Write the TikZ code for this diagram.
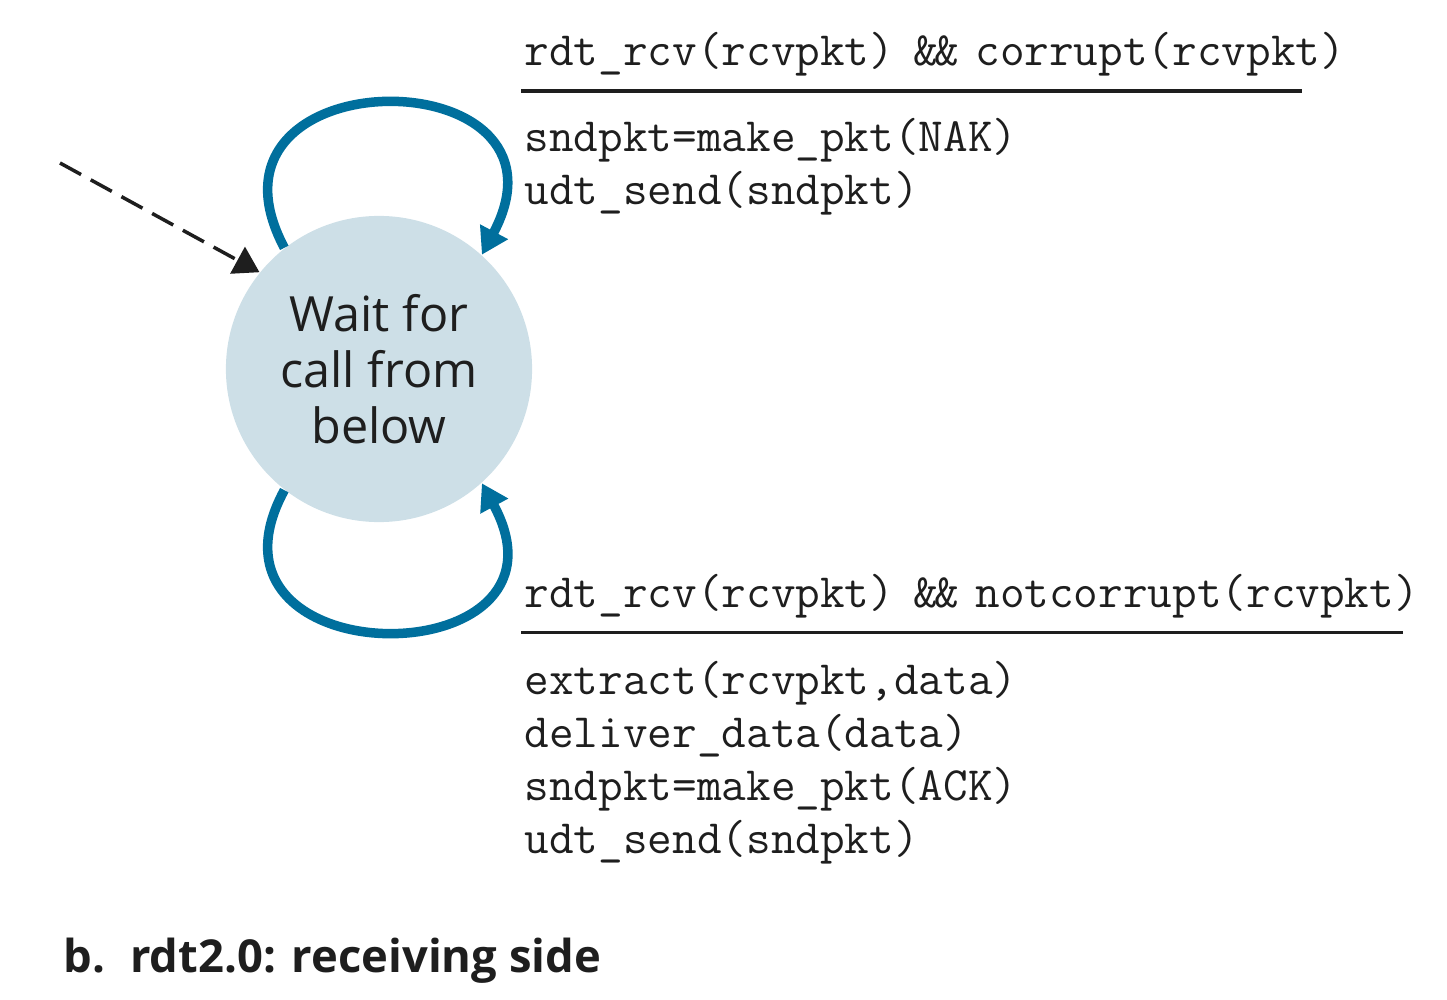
\documentclass[tikz,border=0pt]{standalone}
\usepackage{fontspec}
\setmainfont{Open Sans}
\usetikzlibrary{arrows.meta}
\definecolor{loopblue}{RGB}{0,111,157}
\definecolor{statefill}{RGB}{205,223,231}
\definecolor{ink}{RGB}{30,30,30}
\tikzset{
  statenode/.style={circle, minimum size=3.06cm, inner sep=0pt, fill=statefill, draw=none,
    align=center, text=ink, font=\fontsize{13.8}{15.9}\selectfont},
  selfloop/.style={draw=loopblue, line width=0.095cm, -{Triangle[length=0.26cm,width=0.30cm]}},
  initarrow/.style={draw=ink, line width=0.035cm, dash pattern=on 0.24cm off 0.11cm,
    -{Triangle[length=0.25cm,width=0.30cm]}},
  code/.style={anchor=base west, inner sep=0pt, text=ink, font=\fontsize{13.6}{15}\ttfamily},
  rule/.style={draw=ink, line width=0.03cm},
  caption/.style={anchor=base west, inner sep=0pt, text=ink, font=\fontsize{12.9}{16}\selectfont\bfseries}
}
\newcommand{\andand}{\kern-0.12em\&\kern-0.06em\&\kern-0.18em}
\begin{document}
\begin{tikzpicture}[x=0.01cm, y=-0.01cm]
\useasboundingbox (0,0) rectangle (1447,1000);

\node[statenode] (w) at (379,369) {Wait for\\call from\\below};

% self loops
\draw[selfloop] (w.128) .. controls (182,55) and (588,55) .. (w.48);
\draw[selfloop] (w.232) .. controls (182,679) and (588,679) .. (w.312);

% initial arrow
\coordinate (init) at (60,163);
\draw[initarrow] (init) -- (w.141.5);

% top transition label
\node[code] (c1) at (524,65) {rdt\_rcv(rcvpkt) \andand\ corrupt(rcvpkt)};
\draw[rule] (521,91) -- (1302,91);
\node[code] (a1) at (524,152) {sndpkt=make\_pkt(NAK)};
\node[code] (a2) at (524,205) {udt\_send(sndpkt)};

% bottom transition label
\node[code] (c2) at (524,607) {rdt\_rcv(rcvpkt) \andand\ notcorrupt(rcvpkt)};
\draw[rule] (521,632) -- (1403,632);
\node[code] (b1) at (524,694) {extract(rcvpkt,data)};
\node[code] (b2) at (524,747) {deliver\_data(data)};
\node[code] (b3) at (524,800) {sndpkt=make\_pkt(ACK)};
\node[code] (b4) at (524,853) {udt\_send(sndpkt)};

% caption
\node[caption] (cap) at (63,972) {b.\hspace{0.55em}rdt2.0: receiving side};
\end{tikzpicture}
\end{document}
